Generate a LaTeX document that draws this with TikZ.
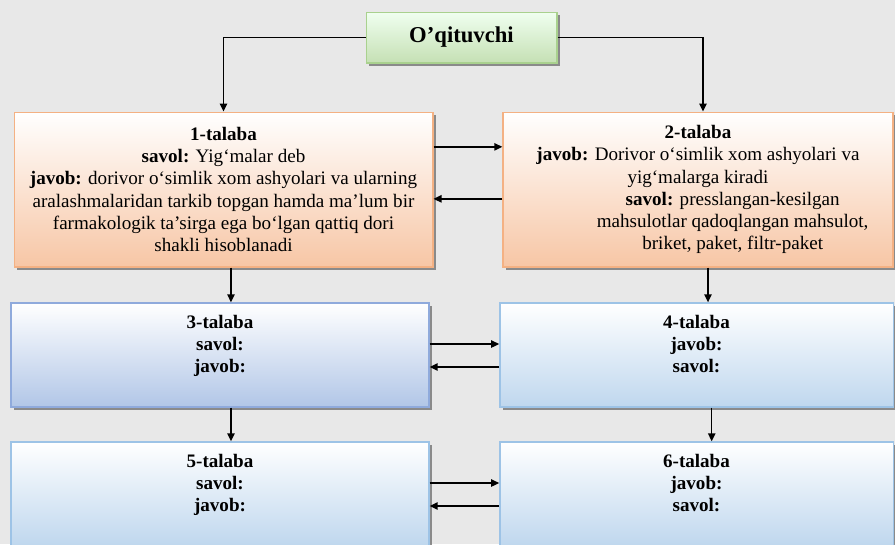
\documentclass[tikz,border=0pt]{standalone}
\usepackage{fontspec}
\setmainfont{Liberation Serif}
\usetikzlibrary{shadows,arrows.meta}

\definecolor{peachline}{HTML}{F4B183}
\definecolor{peach}{HTML}{F7C6A5}
\definecolor{greenline}{HTML}{A9D18E}
\definecolor{greenfill}{HTML}{C5E0B4}
\definecolor{blueline}{HTML}{8FAADC}
\definecolor{bluedark}{HTML}{B1C6E7}
\definecolor{bluelight}{HTML}{BFD7EE}
\definecolor{bluepale}{HTML}{9DC3E6}

\begin{document}
\begin{tikzpicture}[x=0.75pt,y=-0.75pt,
        every node/.style={font=\fontsize{14.3}{16.6}\selectfont, align=center},
        boxshadow/.style={drop shadow={shadow xshift=2.2pt, shadow yshift=-2.2pt, fill=black!55, opacity=0.8}},
        teacherbox/.style={boxshadow, draw=greenline, line width=1pt, top color=green!6, bottom color=greenfill,
            minimum width=143pt, minimum height=38pt, font=\fontsize{17}{20}\selectfont\bfseries},
        peachbox/.style={boxshadow, draw=peachline, line width=1pt, top color=white, bottom color=peach,
            minimum height=116pt},
        bluebox/.style={boxshadow, draw=blueline, line width=1pt, top color=white, bottom color=bluedark,
            minimum height=78pt},
        paleblue/.style={boxshadow, draw=bluepale, line width=1pt, top color=white, bottom color=bluelight,
            minimum height=78pt},
        arr/.style={-{Triangle[length=6pt,width=5.5pt]}, line width=1.1pt}]

    \clip (0,0) rectangle (895,544);
    \fill[black!9] (0,0) rectangle (895,544);

    % teacher
    \node[teacherbox] (teach) at (461.5,37.5) {O’qituvchi};

    % first row
    \node[peachbox, minimum width=314pt] (s1) at (223.5,189.5) {%
        \textbf{1-talaba}\\
        \textbf{savol:} Yig‘malar deb\\
        \textbf{javob:} dorivor o‘simlik xom ashyolari va ularning\\
        aralashmalaridan tarkib topgan hamda ma’lum bir\\
        farmakologik ta’sirga ega bo‘lgan qattiq dori\\
        shakli hisoblanadi};
    \node[peachbox, minimum width=292.5pt] (s2) at (698,189.5) {%
        \textbf{2-talaba}\\
        \textbf{javob:} Dorivor o‘simlik xom ashyolari va\\
        yig‘malarga kiradi\\
        \hspace*{52pt}\textbf{savol:} presslangan-kesilgan\\
        \hspace*{52pt}mahsulotlar qadoqlangan mahsulot,\\
        \hspace*{52pt}briket, paket, filtr-paket};

    % second row
    \node[bluebox, minimum width=313.5pt] (s3) at (220,355) {%
        \textbf{3-talaba}\\ \textbf{savol:}\\ \textbf{javob:}\rule[-17pt]{0pt}{0pt}};
    \node[paleblue, minimum width=295pt] (s4) at (696.5,355) {%
        \textbf{4-talaba}\\ \textbf{javob:}\\ \textbf{savol:}\rule[-17pt]{0pt}{0pt}};

    % third row
    \node[paleblue, minimum width=313.5pt] (s5) at (220,494) {%
        \textbf{5-talaba}\\ \textbf{savol:}\\ \textbf{javob:}\rule[-17pt]{0pt}{0pt}};
    \node[paleblue, minimum width=295pt] (s6) at (696.5,494) {%
        \textbf{6-talaba}\\ \textbf{javob:}\\ \textbf{savol:}\rule[-17pt]{0pt}{0pt}};

    % connectors
    \draw[arr] (teach.west) -| (s1.north);
    \draw[arr] (teach.east) -| ([xshift=3.75pt]s2.north);

    \draw[arr] ([yshift=32pt]s1.east) -- ([yshift=32pt]s1.east -| s2.west);
    \draw[arr] ([yshift=-7pt]s2.west) -- ([yshift=-7pt]s2.west -| s1.east);

    \draw[arr] ([xshift=5.6pt]s1.south) -- ([xshift=5.6pt]s1.south |- s3.north);
    \draw[arr] ([xshift=7.5pt]s2.south) -- ([xshift=7.5pt]s2.south |- s4.north);

    \draw[arr] ([yshift=8.25pt]s3.east) -- ([yshift=8.25pt]s3.east -| s4.west);
    \draw[arr] ([yshift=-9pt]s4.west) -- ([yshift=-9pt]s4.west -| s3.east);

    \draw[arr] ([xshift=8.25pt]s3.south) -- ([xshift=8.25pt]s3.south |- s5.north);
    \draw[arr] ([xshift=11.4pt]s4.south) -- ([xshift=11.4pt]s4.south |- s6.north);

    \draw[arr] ([yshift=8.25pt]s5.east) -- ([yshift=8.25pt]s5.east -| s6.west);
    \draw[arr] ([yshift=-9pt]s6.west) -- ([yshift=-9pt]s6.west -| s5.east);
\end{tikzpicture}
\end{document}
